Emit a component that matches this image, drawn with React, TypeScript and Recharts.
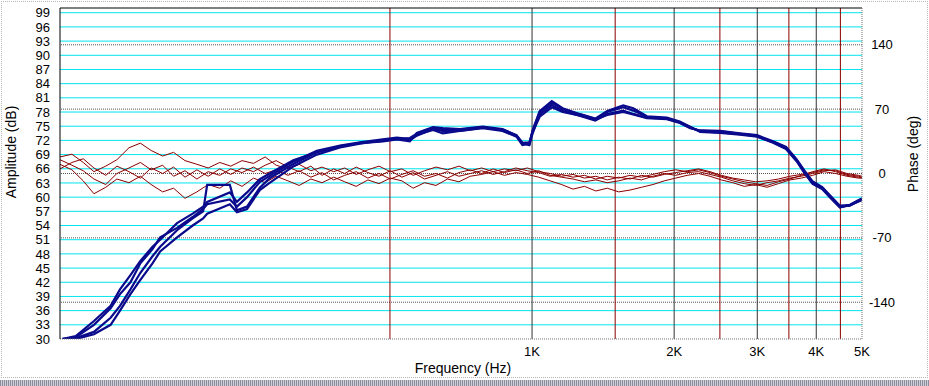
import React from 'react';
import { LineChart, Line, XAxis, YAxis, ReferenceLine } from 'recharts';

// amplitude curves (dB), shared frequency grid
const ampFreq = [101, 108, 118, 128, 134, 141, 148, 157, 163, 177, 191, 201, 205, 229, 237, 249, 265, 278, 312, 350, 392, 432, 483, 517, 551, 570, 617, 647, 703, 786, 866, 927, 954, 987, 1003, 1038, 1101, 1161, 1260, 1361, 1443, 1560, 1638, 1751, 1930, 2055, 2163, 2271, 2503, 2756, 2997, 3240, 3452, 3635, 3777, 3931, 4118, 4274, 4489, 4713, 4945, 5000];
const ampA = [30, 30.2, 31.5, 34.5, 37, 40.5, 44, 47.5, 49.5, 53, 55.5, 57, 62.6, 62.6, 57.2, 58, 62, 64, 67, 69.5, 70.8, 71.4, 71.8, 72.2, 71.8, 73.6, 74.8, 74.6, 74.4, 74.9, 74.4, 73.0, 71.4, 71.0, 73.5, 77.5, 79.5, 78.2, 77.2, 76.2, 77.6, 78.3, 77.6, 76.8, 76.6, 75.8, 74.7, 74.0, 73.9, 73.4, 73.0, 71.7, 70.5, 67.9, 65.4, 63.2, 62.0, 60.3, 58.0, 58.2, 59.3, 59.5];
const ampB = [30, 30.4, 33, 36.5, 39.5, 42, 46, 49, 51.5, 53.5, 55.8, 57.5, 58.5, 59.5, 58, 60, 63.2, 64.5, 67.5, 69.8, 70.9, 71.6, 72.2, 72.6, 72.3, 73.2, 74.2, 73.5, 74.0, 74.6, 74.0, 72.8, 71.0, 71.3, 74.2, 78.2, 80.3, 78.8, 77.6, 76.6, 78.2, 79.4, 78.8, 77.1, 76.8, 76.0, 74.9, 73.8, 73.6, 73.2, 72.8, 71.5, 70.2, 67.6, 65.1, 62.8, 61.7, 60.0, 57.8, 58.4, 59.5, 59.7];
const ampC = [30, 30, 31, 33, 36, 39.5, 42.5, 46, 48.5, 51.5, 54, 55.5, 56.5, 58.5, 56.8, 57.5, 61.5, 63, 66.5, 69, 70.5, 71.3, 72.0, 72.4, 72.0, 73.0, 74.4, 74.0, 74.0, 74.7, 74.3, 73.1, 71.5, 71.6, 73.8, 77.0, 79.0, 78.0, 77.3, 76.4, 77.4, 78.0, 77.5, 76.7, 76.5, 75.7, 74.6, 74.1, 74.0, 73.5, 73.1, 71.8, 70.6, 68.0, 65.6, 63.3, 62.1, 60.4, 58.2, 58.3, 59.2, 59.4];
const ampD = [30, 30.6, 33.8, 37, 40.5, 43.5, 46.5, 49.5, 51, 54.5, 56.5, 58, 59, 61, 59, 61, 63.8, 65, 67.8, 69.5, 70.7, 71.5, 71.9, 72.3, 72.5, 73.4, 74.5, 74.3, 74.3, 74.8, 74.1, 72.9, 71.3, 71.2, 74.0, 78.0, 80.0, 78.6, 77.5, 76.5, 78.0, 79.0, 78.3, 77.0, 76.6, 75.9, 74.8, 73.9, 73.7, 73.3, 72.9, 71.6, 70.3, 67.7, 65.2, 62.9, 61.8, 60.1, 57.9, 58.3, 59.4, 59.6];

// phase curves (deg)
const phaseFreq = [100, 106, 112, 118, 125, 132, 140, 148, 156, 165, 174, 184, 195, 206, 218, 230, 243, 257, 272, 287, 304, 321, 340, 359, 380, 401, 424, 449, 474, 501, 530, 560, 592, 626, 662, 700, 740, 782, 827, 874, 924, 977, 1033, 1092, 1155, 1221, 1291, 1365, 1443, 1526, 1613, 1705, 1803, 1906, 2015, 2131, 2253, 2382, 2518, 2662, 2815, 2976, 3146, 3327, 3517, 3718, 3931, 4156, 4394, 4646, 4912, 5000];
const phaseA = [18, 21, 12, 2, 8, 15, 28, 33, 25, 19, 23, 14, 10, 6, 12, 8, 14, 11, 18, 9, 5, 10, 3, 7, 2, 6, -1, 4, 8, 2, 5, -2, 3, 7, 4, 8, 3, 6, 2, 5, 3, 6, 2, 0, -3, -1, -5, -3, -7, -4, -6, -2, -4, -1, 1, 3, 5, 2, -2, -5, -7, -9, -8, -6, -3, -1, 1, 4, 3, -1, -3, -4];
const phaseB = [10, 4, -8, -22, -15, -6, -10, -3, -12, -20, -16, -27, -20, -12, -16, -8, -14, -5, -10, -3, -8, -13, -6, -10, -4, -9, -14, -7, -11, -5, -8, -16, -10, -13, -6, -9, -3, -1, 2, -2, 1, -1, -4, -8, -12, -17, -14, -19, -16, -20, -18, -15, -12, -8, -5, -2, 0, -3, -7, -10, -14, -12, -15, -11, -7, -5, -2, 2, 0, -3, -5, -5];
const phaseC = [15, 9, 3, -6, -12, 0, 6, 12, 4, 9, -3, 3, -6, 2, -2, 5, 1, 7, 0, 4, -2, 3, -4, 1, -7, -2, 2, -5, 0, -6, -1, 3, -3, 0, -5, 1, 4, 0, 5, 1, 4, 0, 3, -2, -4, -6, -9, -7, -10, -8, -5, -7, -3, 0, -2, 1, 2, -1, -4, -8, -11, -13, -10, -8, -5, -3, 0, 3, 4, 0, -2, -3];
const phaseD = [5, 12, 16, 6, -2, 8, 2, -5, 6, 0, 7, -4, 4, -3, 5, -1, 6, 2, 9, 14, 7, 2, 8, -2, 5, 0, 7, 1, -3, 3, -4, 1, -6, -2, 2, -3, 0, 3, -1, 2, 6, 3, 1, -3, -1, -4, -2, -6, -3, -5, -2, -4, -1, 2, 4, 2, 4, 1, -3, -6, -9, -11, -13, -9, -6, -2, 2, 5, 2, -2, -4, -5];

const freqTicks = [1000, 2000, 3000, 4000, 5000];
const dbTicks = [30, 33, 36, 39, 42, 45, 48, 51, 54, 57, 60, 63, 66, 69, 72, 75, 78, 81, 84, 87, 90, 93, 96, 99];
const phaseTicks = [-140, -70, 0, 70, 140];
const redMarkers = [500, 1500, 2500, 3500, 4500];
const darkMarkers = [1000, 2000, 3000, 4000];

const toPts = (fs: number[], vs: number[]) => fs.map((f, i) => ({ f, v: vs[i] }));

const ampSeries = [ampA, ampB, ampC, ampD].map((v) => toPts(ampFreq, v));
const phaseSeries = [phaseA, phaseB, phaseC, phaseD].map((v) => toPts(phaseFreq, v));

const FONT = '"Liberation Sans", Arial, sans-serif';
const CYAN = '#00e5ee';
const RED = '#8b0000';
const BLUE = '#0a0a8c';

const RightTick = (props: any) => {
  const { x, y, payload } = props;
  return (
    <text x={x + 12} y={y} dy="0.355em" textAnchor="middle" fontSize={13} fill="#000" fontFamily={FONT}>
      {payload.value}
    </text>
  );
};

export default function App() {
  return (
    <div style={{ position: 'absolute', left: 0, top: 0, width: 929, height: 386, background: '#fff', overflow: 'hidden', fontFamily: FONT }}>
      <div style={{ position: 'absolute', left: 1, top: 1, width: 925, height: 375, border: '1px dotted #b8b8b8' }} />
      <div style={{ position: 'absolute', left: 0, top: 380, width: 929, height: 6, background: 'repeating-linear-gradient(90deg, #8c8c9c 0 1px, #cfcfd8 1px 2px)' }} />

      <LineChart width={929} height={386} margin={{ top: 8, right: 0, bottom: 7, left: 0 }}>
        <XAxis
          type="number"
          dataKey="f"
          scale="log"
          domain={[100, 5000]}
          allowDataOverflow
          ticks={freqTicks}
          tickFormatter={(f: number) => `${f / 1000}K`}
          height={40}
          axisLine={{ stroke: '#777', strokeDasharray: '1 1' }}
          tickLine={false}
          tick={{ fontSize: 13, fill: '#000', fontFamily: FONT }}
        />
        <YAxis
          yAxisId="left"
          type="number"
          domain={[30, 100]}
          allowDataOverflow
          ticks={dbTicks}
          interval={0}
          width={60}
          tickSize={6}
          tickMargin={4}
          axisLine={{ stroke: '#000' }}
          tickLine={false}
          tick={{ fontSize: 13, fill: '#000', fontFamily: FONT }}
        />
        <YAxis
          yAxisId="right"
          orientation="right"
          type="number"
          domain={[-180, 180]}
          allowDataOverflow
          ticks={phaseTicks}
          interval={0}
          width={67}
          tickSize={6}
          tickMargin={2}
          axisLine={{ stroke: '#777', strokeDasharray: '1 1' }}
          tickLine={false}
          tick={<RightTick />}
        />

        {dbTicks.filter((t) => t > 30).map((t) => (
          <ReferenceLine key={`db${t}`} yAxisId="left" y={t} stroke={CYAN} strokeWidth={1} />
        ))}
        {phaseTicks.map((t) => (
          <ReferenceLine key={`ph${t}`} yAxisId="right" y={t} stroke="#555" strokeDasharray="1 1" />
        ))}
        {redMarkers.map((f) => (
          <ReferenceLine key={`r${f}`} yAxisId="left" x={f} stroke={RED} strokeWidth={1} />
        ))}
        {darkMarkers.map((f) => (
          <ReferenceLine key={`d${f}`} yAxisId="left" x={f} stroke="#333" strokeWidth={1} />
        ))}
        <ReferenceLine yAxisId="left" y={100} stroke="#000" />

        {phaseSeries.map((d, i) => (
          <Line
            key={`p${i}`}
            data={d}
            dataKey="v"
            yAxisId="right"
            type="linear"
            stroke={RED}
            strokeWidth={1}
            dot={false}
            isAnimationActive={false}
          />
        ))}
        {ampSeries.map((d, i) => (
          <Line
            key={`a${i}`}
            data={d}
            dataKey="v"
            yAxisId="left"
            type="linear"
            stroke={BLUE}
            strokeWidth={2.2}
            dot={false}
            isAnimationActive={false}
          />
        ))}
      </LineChart>

      <div style={{ position: 'absolute', left: 11, top: 152, transform: 'translate(-50%, -50%) rotate(-90deg)', whiteSpace: 'nowrap', fontSize: 14, lineHeight: '16px', color: '#000' }}>
        Amplitude (dB)
      </div>
      <div style={{ position: 'absolute', left: 913, top: 154, transform: 'translate(-50%, -50%) rotate(-90deg)', whiteSpace: 'nowrap', fontSize: 14, lineHeight: '16px', color: '#000' }}>
        Phase (deg)
      </div>
      <div style={{ position: 'absolute', left: 463, top: 360, transform: 'translateX(-50%)', whiteSpace: 'nowrap', fontSize: 14, lineHeight: '16px', color: '#000' }}>
        Frequency (Hz)
      </div>
    </div>
  );
}
